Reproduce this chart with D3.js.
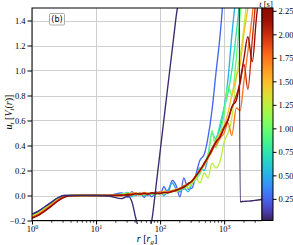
<!DOCTYPE html>
<html>
<head>
<meta charset="utf-8">
<script src="https://cdnjs.cloudflare.com/ajax/libs/d3/7.8.5/d3.min.js"></script>
<style>
  body { margin: 0; background: #fff; }
  svg { display: block; }
  text { font-family: "Liberation Serif", "DejaVu Serif", serif; fill: #000; }
</style>
</head>
<body>
<svg id="chart" width="293" height="245"></svg>
<script>
// log10(r / r_g) grid shared by every snapshot
const logR = [0, 0.1, 0.2, 0.3, 0.4, 0.5, 0.6, 0.8, 1.0, 1.2,
  1.4, 1.5, 1.56, 1.62, 1.69, 1.75, 1.81, 1.87, 1.94, 2.0,
  2.06, 2.12, 2.19, 2.25, 2.31, 2.37, 2.44, 2.5, 2.56, 2.62,
  2.69, 2.75, 2.81, 2.87, 2.94, 3.0, 3.06, 3.12, 3.19, 3.25,
  3.31, 3.37, 3.44, 3.5, 3.56, 3.62];

// snapshot times [s]
const snapTimes = [0.04, 0.25, 0.5, 0.75, 1.0, 1.25, 1.5, 1.75, 2.0, 2.25];

// u_t [V_t(r)] per snapshot (null = off the plot)
const snap0 = [-0.15, -0.125, -0.09, -0.055, -0.02, 0, 0, 0.001, 0, -0.004,
  -0.025, -0.005, -0.05, -0.18, -0.3, -0.34, -0.3, -0.2, 0.09, 0.35,
  0.61, 0.87, 1.17, 1.43, 1.69, 4, 8, 10, 10, 10,
  10, 10, 10, 10, 10, 10, 10, 10, 10, -0.05,
  -0.047, -0.045, -0.042, -0.038, -0.034, -0.03];
const snap1 = [-0.15, -0.125, -0.09, -0.055, -0.02, 0, 0, 0, 0.002, 0.003,
  0.02, -0.015, 0.03, 0.0, 0.025, -0.015, 0.02, -0.01, 0.03, 0.005,
  0.07, 0.02, 0.12, 0.08, -0.01, 0.14, 0.05, 0.06, 0.17, 0.28,
  0.33, 0.47, 0.68, 0.97, 1.3, 1.7, 2.3, null, null, null,
  null, null, null, null, null, null];
const snap2 = [-0.155, -0.13, -0.095, -0.06, -0.025, -0.002, 0, 0, 0, 0.002,
  0.01, 0.025, -0.01, 0.015, 0.0, 0.02, 0.0, 0.015, 0.01, 0.03,
  0.0, 0.04, 0.1, 0.05, 0.03, 0.06, 0.03, 0.1, 0.15, 0.22,
  0.2, 0.3, 0.36, 0.45, 0.55, 0.7, 0.93, 1.28, 1.65, 2.1,
  null, null, null, null, null, null];
const snap3 = [-0.16, -0.135, -0.1, -0.065, -0.028, -0.004, 0, 0, 0, 0,
  0.005, 0.0, 0.02, 0.005, 0.015, 0.0, 0.02, 0.01, 0.02, 0.01,
  0.03, 0.02, 0.04, 0.035, 0.06, 0.05, 0.09, 0.1, 0.14, 0.19,
  0.26, 0.33, 0.5, 0.45, 0.58, 0.7, 0.82, 1.0, 1.3, 1.6,
  2.0, null, null, null, null, null];
const snap4 = [-0.162, -0.138, -0.103, -0.067, -0.03, -0.005, 0, 0, 0, 0,
  0.01, 0.02, 0.0, 0.02, 0.005, 0.015, 0.01, 0.02, 0.012, 0.025,
  0.015, 0.03, 0.03, 0.045, 0.05, 0.06, 0.08, 0.1, 0.13, 0.17,
  0.25, 0.3, 0.52, 0.38, 0.5, 0.65, 0.88, 0.8, 1.1, 1.45,
  1.8, null, null, null, null, null];
const snap5 = [-0.165, -0.14, -0.106, -0.07, -0.032, -0.006, 0, 0, 0, 0,
  0.0, 0.015, 0.005, 0.02, 0.0, 0.02, 0.01, 0.015, 0.02, 0.01,
  0.03, 0.02, 0.04, 0.03, 0.05, 0.07, 0.06, 0.1, 0.14, 0.1,
  0.18, 0.14, 0.26, 0.22, 0.28, 0.43, 0.5, 0.62, 0.95, 1.12,
  1.35, 1.65, 2.0, null, null, null];
const snap6 = [-0.17, -0.145, -0.11, -0.073, -0.035, -0.008, 0, 0, 0, 0,
  0.005, 0.01, 0.02, 0.01, 0.02, 0.01, 0.02, 0.015, 0.025, 0.02,
  0.035, 0.03, 0.04, 0.05, 0.055, 0.08, 0.09, 0.12, 0.15, 0.21,
  0.24, 0.3, 0.35, 0.44, 0.5, 0.56, 0.66, 0.8, 0.95, 1.05,
  1.3, 1.5, 1.8, null, null, null];
const snap7 = [-0.173, -0.15, -0.115, -0.077, -0.038, -0.01, 0, 0, 0, 0,
  0.0, 0.01, 0.015, 0.02, 0.01, 0.025, 0.015, 0.02, 0.02, 0.03,
  0.02, 0.03, 0.035, 0.04, 0.06, 0.07, 0.1, 0.11, 0.16, 0.19,
  0.26, 0.3, 0.37, 0.4, 0.46, 0.5, 0.58, 0.48, 0.7, 0.68,
  0.92, 1.15, 1.45, 1.75, null, null];
const snap8 = [-0.177, -0.155, -0.12, -0.082, -0.042, -0.012, 0, 0, 0, 0,
  0.005, 0.0, 0.01, 0.015, 0.01, 0.02, 0.015, 0.02, 0.015, 0.02,
  0.025, 0.025, 0.03, 0.045, 0.05, 0.075, 0.09, 0.12, 0.16, 0.2,
  0.25, 0.31, 0.38, 0.42, 0.48, 0.55, 0.61, 0.7, 0.8, 0.9,
  1.05, 0.85, 1.25, 1.6, null, null];
const snap9 = [-0.182, -0.16, -0.125, -0.087, -0.046, -0.015, -0.002, 0, 0, 0,
  0.0, 0.01, 0.005, 0.015, 0.01, 0.015, 0.01, 0.02, 0.02, 0.015,
  0.025, 0.02, 0.035, 0.04, 0.055, 0.065, 0.095, 0.115, 0.155, 0.2,
  0.26, 0.31, 0.36, 0.43, 0.47, 0.54, 0.6, 0.71, 0.76, 0.92,
  1.1, 1.27, 1.07, 1.4, 1.7, null];

const snapshots = [snap0, snap1, snap2, snap3, snap4, snap5, snap6, snap7, snap8, snap9];

// axis ticks
const yTicks = [-0.2, 0, 0.2, 0.4, 0.6, 0.8, 1.0, 1.2, 1.4];
const xMajor = [1, 10, 100, 1000];
const cTicks = [0.25, 0.5, 0.75, 1.0, 1.25, 1.5, 1.75, 2.0, 2.25];

// layout
const plot = { left: 32, right: 262, top: 8, bottom: 220.5 };
const cbar = { x: 262, w: 11 };

const svg = d3.select("#chart");

const x = d3.scaleLog().domain([1, 3900]).range([plot.left, plot.right]);
const y = d3.scaleLinear().domain([-0.2, 1.5]).range([plot.bottom, plot.top]);
const cScale = d3.scaleLinear().domain([0.02, 2.28]).range([plot.bottom, plot.top]);
const color = d3.scaleSequential(t => d3.interpolateTurbo(0.02 + 0.98 * t)).domain([0.02, 2.28]);

// minor ticks on the log axis
const xMinor = [];
[1, 10, 100, 1000].forEach(dec => {
  for (let k = 2; k <= 9; k++) if (dec * k <= 3900) xMinor.push(dec * k);
});

// grid
const grid = svg.append("g").attr("stroke", "#cfcfcf").attr("stroke-width", 1);
yTicks.forEach(v => {
  grid.append("line").attr("x1", plot.left).attr("x2", plot.right)
    .attr("y1", Math.round(y(v)) + 0.5).attr("y2", Math.round(y(v)) + 0.5);
});
xMajor.forEach(v => {
  grid.append("line").attr("y1", plot.top).attr("y2", plot.bottom)
    .attr("x1", Math.round(x(v)) + 0.5).attr("x2", Math.round(x(v)) + 0.5);
});

// curves
svg.append("clipPath").attr("id", "clip").append("rect")
  .attr("x", plot.left).attr("y", plot.top)
  .attr("width", plot.right - plot.left).attr("height", 224 - plot.top);

const line = d3.line()
  .defined(d => d[1] !== null)
  .x(d => x(Math.pow(10, d[0])))
  .y(d => y(d[1]))
  .curve(d3.curveMonotoneX);

const curves = svg.append("g").attr("clip-path", "url(#clip)");
const order = [1, 2, 3, 4, 5, 6, 7, 8, 9, 0];
order.forEach(i => {
  const pts = logR.map((lr, j) => [lr, snapshots[i][j]]);
  curves.append("path")
    .attr("d", line(pts))
    .attr("fill", "none")
    .attr("stroke", color(snapTimes[i]))
    .attr("stroke-width", 1.35)
    .attr("stroke-linejoin", "round");
});

// frame
svg.append("rect")
  .attr("x", plot.left).attr("y", plot.top)
  .attr("width", plot.right - plot.left).attr("height", plot.bottom - plot.top)
  .attr("fill", "none").attr("stroke", "#000").attr("stroke-width", 1);

// y axis
const yAxis = svg.append("g").attr("transform", `translate(${plot.left},0)`)
  .call(d3.axisLeft(y).tickValues(yTicks).tickSize(4.5).tickPadding(2).tickFormat(d3.format(".1f")));
yAxis.select(".domain").remove();
yAxis.selectAll("text").style("font-size", "8.5px").style("font-family", "Liberation Serif");

// x axis majors
const xAxis = svg.append("g").attr("transform", `translate(0,${plot.bottom})`)
  .call(d3.axisBottom(x).tickValues(xMajor).tickSize(4).tickFormat(""));
xAxis.select(".domain").remove();
xAxis.selectAll(".tick text").remove();
xAxis.selectAll(".tick").append("text")
  .attr("y", 11.5)
  .attr("text-anchor", "middle")
  .style("font-size", "8.5px")
  .each(function(d) {
    const t = d3.select(this);
    t.append("tspan").text("10");
    t.append("tspan").attr("dy", -3.5).style("font-size", "6px").text(Math.round(Math.log10(d)));
  });

// x axis minors
const xMin = svg.append("g").attr("transform", `translate(0,${plot.bottom})`)
  .call(d3.axisBottom(x).tickValues(xMinor).tickSize(2.2).tickFormat(""));
xMin.select(".domain").remove();
xMin.selectAll("line").attr("stroke-width", 0.8);

// axis labels
const xl = svg.append("text").attr("x", 147).attr("y", 242)
  .attr("text-anchor", "middle").style("font-size", "10px");
xl.append("tspan").style("font-style", "italic").text("r");
xl.append("tspan").text(" [");
xl.append("tspan").style("font-style", "italic").text("r");
xl.append("tspan").attr("dy", 2).style("font-size", "7px").style("font-style", "italic").text("g");
xl.append("tspan").attr("dy", -2).text("]");

const yl = svg.append("text").attr("transform", "translate(11.5,112) rotate(-90)")
  .attr("text-anchor", "middle").style("font-size", "10px");
yl.append("tspan").style("font-style", "italic").text("u");
yl.append("tspan").attr("dy", 2).style("font-size", "7px").style("font-style", "italic").text("t");
yl.append("tspan").attr("dy", -2).text(" [");
yl.append("tspan").style("font-style", "italic").text("V");
yl.append("tspan").attr("dy", 2).style("font-size", "7px").style("font-style", "italic").text("t");
yl.append("tspan").attr("dy", -2).text("(");
yl.append("tspan").style("font-style", "italic").text("r");
yl.append("tspan").text(")]");

// panel tag
svg.append("rect").attr("x", 49.5).attr("y", 13.5).attr("width", 15).attr("height", 11.5)
  .attr("rx", 1).attr("fill", "#fff").attr("stroke", "#999").attr("stroke-width", 0.8);
svg.append("text").attr("x", 57).attr("y", 22.3).attr("text-anchor", "middle")
  .style("font-family", "DejaVu Sans").style("font-size", "8px").text("(b)");

// colorbar
const grad = svg.append("defs").append("linearGradient").attr("id", "cbgrad")
  .attr("x1", 0).attr("y1", 1).attr("x2", 0).attr("y2", 0);
d3.range(0, 1.0001, 0.02).forEach(s => {
  grad.append("stop").attr("offset", s).attr("stop-color", d3.interpolateTurbo(0.02 + 0.98 * s));
});
svg.append("rect").attr("x", cbar.x).attr("y", plot.top)
  .attr("width", cbar.w).attr("height", plot.bottom - plot.top)
  .attr("fill", "url(#cbgrad)").attr("stroke", "#000").attr("stroke-width", 1);

const cAxis = svg.append("g").attr("transform", `translate(${cbar.x + cbar.w},0)`)
  .call(d3.axisRight(cScale).tickValues(cTicks).tickSize(3.5).tickPadding(2).tickFormat(d3.format(".2f")));
cAxis.select(".domain").remove();
cAxis.selectAll("text").style("font-size", "8.5px").style("font-family", "Liberation Serif");

const ct = svg.append("text").attr("x", 266).attr("y", 6.5)
  .attr("text-anchor", "middle").style("font-size", "8.5px");
ct.append("tspan").style("font-style", "italic").text("t");
ct.append("tspan").text(" [s]");
</script>
</body>
</html>
